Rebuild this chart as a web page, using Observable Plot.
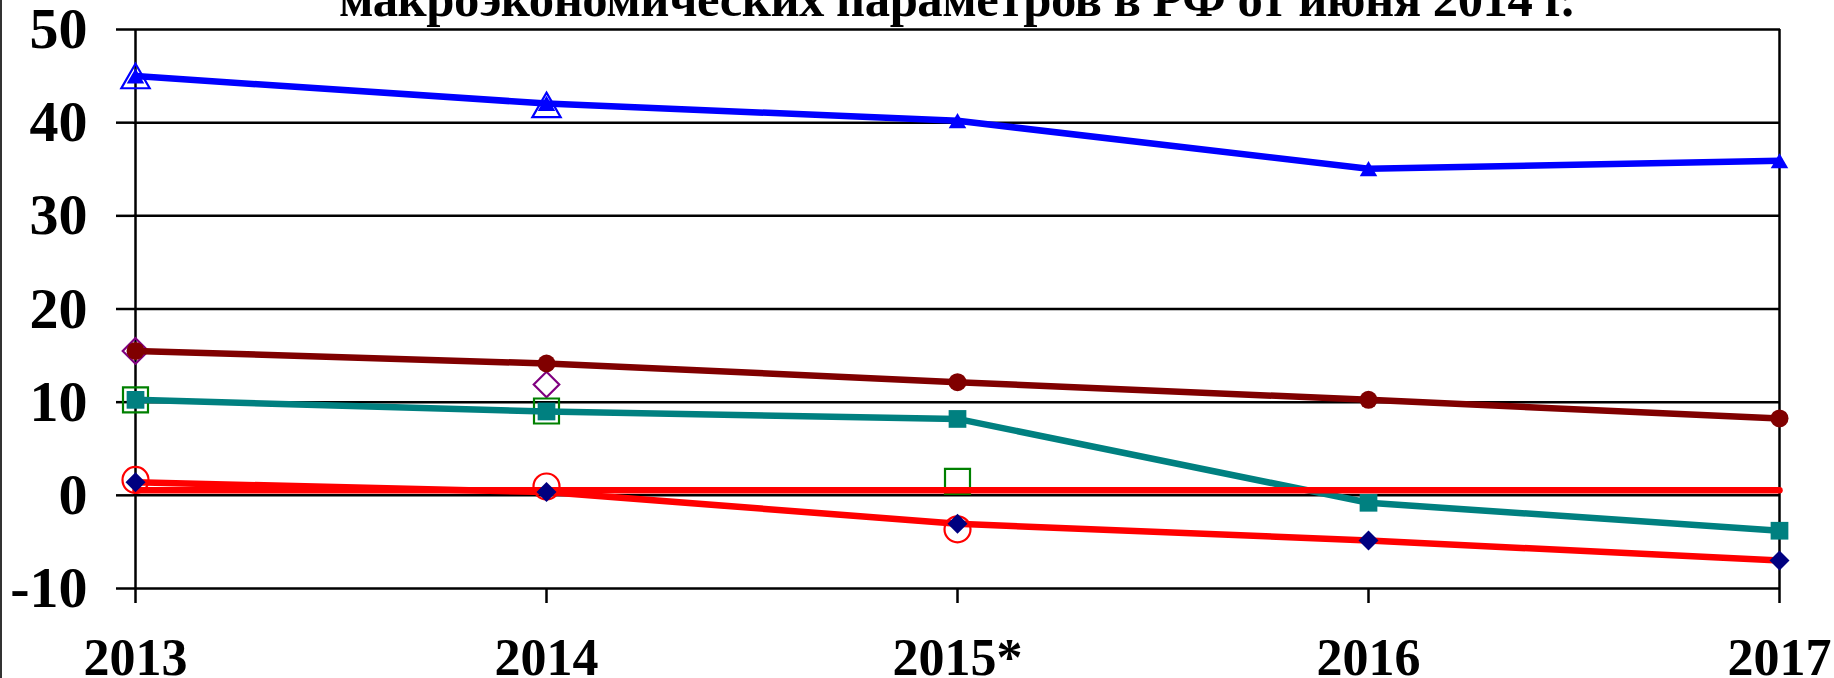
<!DOCTYPE html>
<html>
<head>
<meta charset="utf-8">
<script src="https://cdn.jsdelivr.net/npm/d3@7"></script>
<script src="https://cdn.jsdelivr.net/npm/@observablehq/plot@0.6"></script>
<style>
  html, body { margin: 0; padding: 0; background: white; overflow: hidden; }
  #wrap { position: relative; width: 1834px; height: 678px; overflow: hidden; background: white; }
  #frame { position: absolute; left: 0px; top: 0; width: 2px; height: 678px; background: #333; }
  #title { position: absolute; left: 339px; top: -27px; font-family: 'Liberation Serif', 'Times New Roman', serif; font-weight: bold; font-size: 50.7px; line-height: 52px; letter-spacing: -0.5px; white-space: nowrap; color: black; z-index: 2; }
  #chart { position: absolute; left: 0; top: 0; }
</style>
</head>
<body>
<div id="wrap">
  <div id="chart"></div>
  <div id="title">макроэкономических параметров в РФ от июня 2014 г.</div>
  <div id="frame"></div>
</div>
<script>
// Categories and tick labels
const years = ["2013", "2014", "2015*", "2016", "2017"];
const yTicks = [-10, 0, 10, 20, 30, 40, 50];

// Series values (null = no point)
const blueLine      = [45.0, 42.05, 40.2, 35.05, 35.9];
const blueOpen      = [45.0, 41.9, null, null, null];
const maroonLine    = [15.5, 14.15, 12.15, 10.25, 8.25];
const purpleOpen    = [15.5, 11.9, null, null, null];
const tealLine      = [10.25, 9.0, 8.2, -0.8, -3.8];
const greenOpen     = [10.25, 9.05, 1.5, null, null];
const redNavyLine   = [1.4, 0.35, -3.05, -4.85, -7.0];
const redOpen       = [1.65, 0.95, -3.65, null, null];
const redFlatLine   = [0.55, 0.55, 0.55, 0.55, 0.55];

const rows = (vals) => years.map((year, i) => ({year, value: vals[i]})).filter(d => d.value != null);

const chart = Plot.plot({
  width: 1834,
  height: 678,
  marginTop: 29,
  marginBottom: 90,
  marginLeft: 133,
  marginRight: 54,
  style: {
    fontFamily: "'Liberation Serif', 'Times New Roman', serif",
    fontWeight: "bold",
    background: "transparent",
    color: "black",
    overflow: "visible"
  },
  x: {type: "point", domain: years, padding: 0, label: null},
  y: {domain: [-10, 50], label: null},
  marks: [
    Plot.ruleY(yTicks, {stroke: "black", strokeWidth: 2.5}),
    Plot.ruleX([years[0], years[years.length - 1]], {stroke: "black", strokeWidth: 2.5}),
    Plot.axisY({ticks: yTicks, tickSize: 17, tickPadding: 29, fontSize: 58, strokeWidth: 2.5, tickFormat: d => `${d}`, label: null}),
    Plot.axisX({tickSize: 15, tickPadding: 35, fontSize: 52, strokeWidth: 2.5, label: null}),

    // hollow marker-only series
    Plot.dot(rows(purpleOpen), {x: "year", y: "value", symbol: "diamond2", r: 11.5, stroke: "#800080", strokeWidth: 2.2, fill: "none"}),
    Plot.dot(rows(greenOpen), {x: "year", y: "value", symbol: "square", r: 14.1, stroke: "#008000", strokeWidth: 2.2, fill: "none"}),
    Plot.dot(rows(redOpen), {x: "year", y: "value", symbol: "circle", r: 13, stroke: "#FF0000", strokeWidth: 2.2, fill: "none"}),
    Plot.dot(rows(blueOpen), {x: "year", y: "value", symbol: "triangle", r: 10.5, dy: 4, stroke: "#0000FF", strokeWidth: 2.2, fill: "none"}),

    // lines with markers
    Plot.line(rows(tealLine), {x: "year", y: "value", stroke: "#008080", strokeWidth: 6.5}),
    Plot.dot(rows(tealLine), {x: "year", y: "value", symbol: "square", r: 10, fill: "#008080"}),

    Plot.line(rows(maroonLine), {x: "year", y: "value", stroke: "#800000", strokeWidth: 6.5}),
    Plot.dot(rows(maroonLine), {x: "year", y: "value", symbol: "circle", r: 9, fill: "#800000"}),

    Plot.line(rows(blueLine), {x: "year", y: "value", stroke: "#0000FF", strokeWidth: 6.5}),
    Plot.dot(rows(blueLine), {x: "year", y: "value", symbol: "triangle", r: 6.5, dy: 2.4, fill: "#0000FF"}),

    Plot.line(rows(redFlatLine), {x: "year", y: "value", stroke: "#FF0000", strokeWidth: 6.5}),

    Plot.line(rows(redNavyLine), {x: "year", y: "value", stroke: "#FF0000", strokeWidth: 6.5}),
    Plot.dot(rows(redNavyLine), {x: "year", y: "value", symbol: "diamond2", r: 9, fill: "#000080"})
  ]
});
document.getElementById("chart").appendChild(chart);
</script>
</body>
</html>
